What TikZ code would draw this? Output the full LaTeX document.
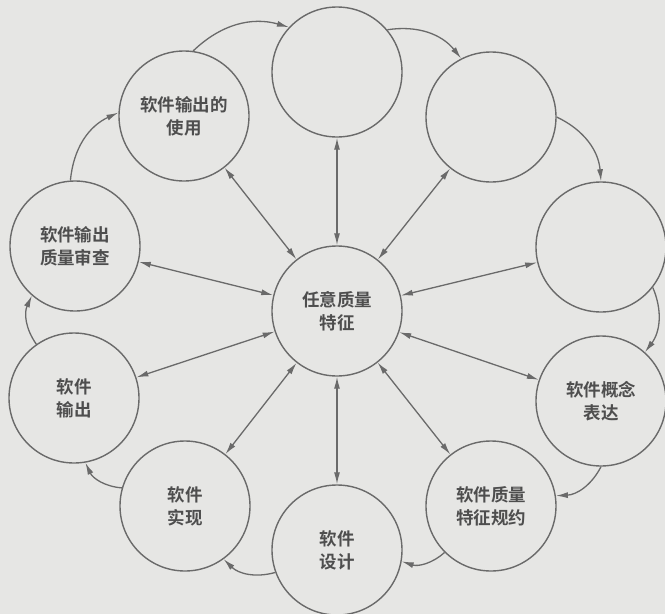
\documentclass[tikz,border=0pt]{standalone}
\usepackage{fontspec}
\newfontfamily\cjk{Noto Sans CJK SC}[BoldFont={Noto Sans CJK SC Bold}]
\usetikzlibrary{arrows.meta}
\definecolor{bgc}{HTML}{E6E6E4}
\definecolor{linec}{HTML}{6A6A6A}
\definecolor{txtc}{HTML}{4E4E4E}
\begin{document}
\begin{tikzpicture}[x=1pt,y=1pt,
  bubble/.style={circle, draw=linec, line width=1.4pt, minimum size=130pt, inner sep=0pt,
    align=center, font=\cjk\bfseries\fontsize{17.5}{23}\selectfont, text=txtc},
  tip/.style={Latex[length=12pt,width=6pt]},
  spoke/.style={draw=linec, line width=1.3pt, {Latex[length=12pt,width=6pt]}-{Latex[length=12pt,width=6pt]}},
  ring/.style={draw=linec, line width=1.3pt, -{Latex[length=12pt,width=6pt]}, bend left=30}]
\fill[bgc] (0,0) rectangle (665,-614);
\useasboundingbox (0,0) rectangle (665,-614);
\node[bubble] (c)   at (337,-311) {任意质量\\特征};
\node[bubble] (n1)  at (337,-72)  {};
\node[bubble] (n2)  at (491,-117) {};
\node[bubble] (n3)  at (601,-247) {};
\node[bubble] (n4)  at (601,-401) {软件概念\\表达};
\node[bubble] (n5)  at (491,-506) {软件质量\\特征规约};
\node[bubble] (n6)  at (337,-550) {软件\\设计};
\node[bubble] (n7)  at (185,-506) {软件\\实现};
\node[bubble] (n8)  at (74,-398)  {软件\\输出};
\node[bubble] (n9)  at (75,-246)  {软件输出\\质量审查};
\node[bubble] (n10) at (184,-116) {软件输出的\\使用};
\foreach \n in {n1,n2,n3,n4,n5,n6,n7,n8,n9,n10}
  \draw[spoke] (c) -- (\n);
\draw[ring] (n10.82) to (n1.137);
\draw[ring] (n1.40) to (n2.117);
\draw[ring] (n2.0) to (n3.90);
\draw[ring] (n3.-38) to (n4.48);
\draw[ring] (n4.-90) to (n5.9);
\draw[ring] (n5.225) to (n6.-10);
\draw[ring] (n6.200) to (n7.306);
\draw[ring] (n7.164) to (n8.280);
\draw[ring] (n8.125) to (n9.229);
\draw[ring] (n9.94) to (n10.177);
\end{tikzpicture}
\end{document}
